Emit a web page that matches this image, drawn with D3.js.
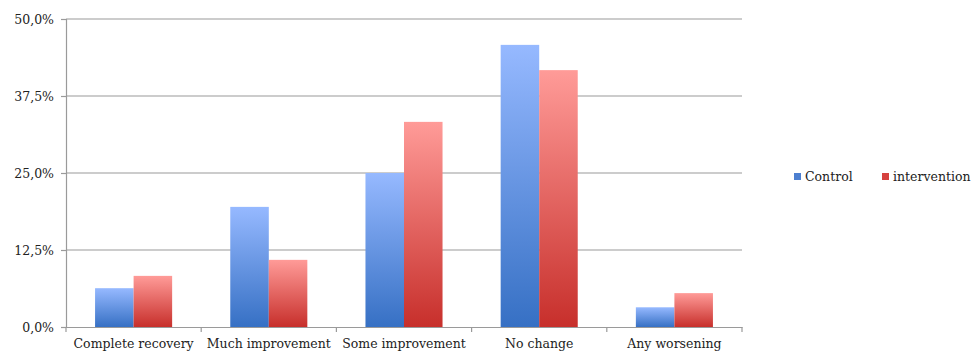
<!DOCTYPE html>
<html><head><meta charset="utf-8">
<script src="https://cdn.jsdelivr.net/npm/d3@7"></script>
<style>body{margin:0;background:#fff;} svg{display:block;} text{font-family:"DejaVu Serif","Liberation Serif",serif;}</style>
</head><body>
<svg id="c" width="971" height="354"></svg>
<script>
const categories = ["Complete recovery","Much improvement","Some improvement","No change","Any worsening"];
const seriesNames = ["Control","intervention"];
const control = [6.3, 19.5, 25.0, 45.8, 3.2];
const intervention = [8.3, 10.9, 33.3, 41.7, 5.5];
const yTicks = [0, 12.5, 25, 37.5, 50];

const svg = d3.select("#c");
const m = {l:66, r:229, t:19, b:27};
const W = 971, H = 354;
const x = d3.scaleBand().domain(categories).range([m.l, W - m.r]).paddingInner(0.43).paddingOuter(0.215);
const x0 = d3.scaleBand().domain(categories).range([m.l, W - m.r]);
const xs = d3.scaleBand().domain(seriesNames).range([0, x.bandwidth()]);
const y = d3.scaleLinear().domain([0, 50]).range([H - m.b, m.t]);

const defs = svg.append("defs");
function grad(id, top, bot){
  const g = defs.append("linearGradient").attr("id", id).attr("x1",0).attr("y1",0).attr("x2",0).attr("y2",1);
  g.append("stop").attr("offset","0%").attr("stop-color",top);
  g.append("stop").attr("offset","100%").attr("stop-color",bot);
}
grad("gb", "#96b9ff", "#3670c4");
grad("gr", "#ff9b98", "#c72f2b");
const fills = {Control:"url(#gb)", intervention:"url(#gr)"};
const legendFills = {Control:"#4d7fd0", intervention:"#d6423f"};

const fs = 12.5;
const gridColor = "#9a9a9a";

// gridlines
svg.append("g").selectAll("line").data(yTicks.filter(d => d > 0)).join("line")
  .attr("x1", m.l).attr("x2", W - m.r).attr("y1", d => y(d)).attr("y2", d => y(d))
  .attr("stroke", gridColor).attr("stroke-width", 1.2);

// bars
const data = categories.map((c, i) => ({c, vals: [{s:"Control", v: control[i]}, {s:"intervention", v: intervention[i]}]}));
svg.append("g").selectAll("g").data(data).join("g")
  .attr("transform", d => `translate(${x(d.c)},0)`)
  .selectAll("rect").data(d => d.vals).join("rect")
  .attr("x", d => xs(d.s)).attr("width", xs.bandwidth())
  .attr("y", d => y(d.v)).attr("height", d => y(0) - y(d.v))
  .attr("fill", d => fills[d.s]);

// y axis
const yAxis = svg.append("g").attr("transform", `translate(${m.l},0)`)
  .call(d3.axisLeft(y).tickValues(yTicks).tickSize(5).tickPadding(7)
    .tickFormat(d => d3.format(".1f")(d).replace(".", ",") + "%"));
yAxis.attr("font-family", null);
yAxis.select(".domain").attr("stroke", gridColor).attr("stroke-width", 1.2);
yAxis.selectAll(".tick line").attr("stroke", gridColor).attr("stroke-width", 1.2);
yAxis.selectAll("text").attr("font-size", fs).attr("fill", "#222");

// x axis
const xAxis = svg.append("g").attr("transform", `translate(0,${y(0)})`)
  .call(d3.axisBottom(x0).tickSize(0).tickPadding(12));
xAxis.attr("font-family", null);
xAxis.select(".domain").attr("stroke", gridColor).attr("stroke-width", 1.2);
xAxis.selectAll("text").attr("font-size", fs).attr("fill", "#222");
const bounds = categories.map(c => x0(c)).concat([W - m.r]);
xAxis.append("g").selectAll("line").data(bounds).join("line")
  .attr("x1", d => d).attr("x2", d => d).attr("y1", 0).attr("y2", 5)
  .attr("stroke", gridColor).attr("stroke-width", 1.2);

// legend
const legendX = [794, 882];
const lg = svg.append("g").selectAll("g").data(seriesNames).join("g")
  .attr("transform", (d, i) => `translate(${legendX[i]},173)`);
lg.append("rect").attr("width", 7).attr("height", 7).attr("fill", d => legendFills[d]);
lg.append("text").attr("x", 11).attr("y", 8).text(d => d)
  .attr("font-size", fs).attr("fill", "#222");
</script>
</body></html>
